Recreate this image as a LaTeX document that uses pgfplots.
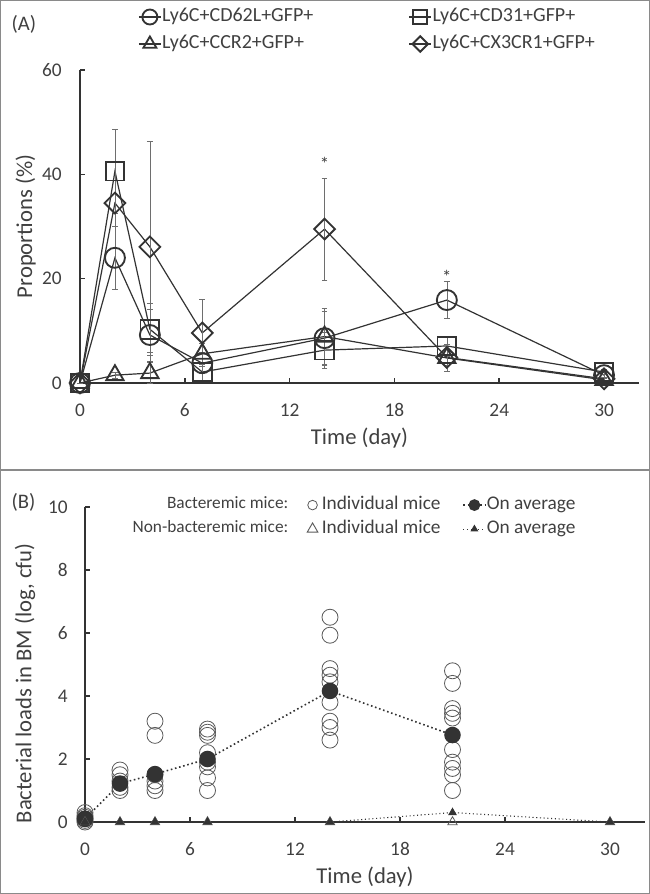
\documentclass[border=0pt]{standalone}
\usepackage{fontspec}
\setmainfont{Carlito}
\usepackage{pgfplots}
\usepackage{pgfplotstable}
\pgfplotsset{compat=1.18}
\definecolor{txt}{HTML}{404040}
\definecolor{axc}{HTML}{333333}
\definecolor{frm}{HTML}{8A8A8A}
\definecolor{errc}{HTML}{6E6E6E}
\definecolor{indc}{HTML}{5A5A5A}

% Panel A: x = day, y = mean proportion, e = error
\pgfplotstableread{
x y e
0 0 0
2 24.0 6.0
4 9.2 5.0
7 3.8 2.0
14 8.6 5.1
21 15.9 3.5
30 1.5 0.5
}\tcd
\pgfplotstableread{
x y e
0 0 0
2 40.6 8.1
4 10.3 5.0
7 2.1 1.5
14 6.3 3.4
21 7.1 1.9
30 2.1 0.5
}\tcdb
\pgfplotstableread{
x y e
0 0 0
2 1.5 0.6
4 1.9 2.0
7 5.6 2.0
14 8.9 5.5
21 4.8 2.6
30 0.6 0.3
}\tccr
\pgfplotstableread{
x y e
0 0 0
2 34.5 4.4
4 26.1 20.2
7 9.6 6.4
14 29.5 9.8
21 4.9 1.5
30 0.8 0.3
}\tcx

% Panel B
\pgfplotstableread{
x y
0 0.0
0 0.05
0 0.1
0 0.15
0 0.2
0 0.3
2 1.0
2 1.1
2 1.3
2 1.5
2 1.65
4 1.0
4 1.15
4 1.3
4 1.5
4 2.75
4 3.2
7 1.0
7 1.4
7 1.75
7 1.9
7 2.2
7 2.75
7 2.85
7 2.95
14 2.6
14 3.0
14 3.2
14 3.8
14 4.45
14 4.66
14 4.87
14 5.93
14 6.5
21 1.0
21 1.5
21 1.7
21 1.9
21 2.3
21 3.3
21 3.45
21 3.6
21 4.4
21 4.8
}\tbind
\pgfplotstableread{
x y
0 0.1
2 1.22
4 1.52
7 2.0
14 4.16
21 2.76
}\tbavg
\pgfplotstableread{
x y
0 0
2 0
4 0
7 0
14 0
21 0
30 0
}\tnind
\pgfplotstableread{
x y
0 0
2 0
4 0
7 0
14 0
21 0.3
30 0
}\tnavg

\pgfplotsset{
  common/.style={
    scale only axis,
    axis x line*=bottom, axis y line*=left,
    axis line style={axc, line width=1.5pt},
    tick style={axc, line width=1.2pt},
    major tick length=4pt,
    tick align=inside,
    /pgf/number format/assume math mode=true,
    xmin=0, xmax=32, xtick={0,6,...,30},
    ticklabel style={font=\fontsize{14.5}{17}\selectfont, text=txt},
    label style={font=\fontsize{17}{20}\selectfont, text=txt},
    clip=false,
    xticklabel style={anchor=center, yshift=-20.25pt, inner sep=0pt},
  },
  ser/.style={axc, line width=0.9pt, mark options={solid, line width=1.4pt},
    error bars/y dir=both, error bars/y explicit,
    error bars/error bar style={errc, line width=0.5pt},
    error bars/error mark options={errc, line width=0.5pt, mark size=2.2pt, rotate=90}},
}

\begin{document}
\begin{tikzpicture}
\begin{scope}[x=0.75pt,y=0.75pt]
\useasboundingbox (0,0) rectangle (650,894);
\draw[frm, line width=1.1pt] (0.75,0.75) rectangle (649.25,893.25);
\draw[frm, line width=1.1pt] (0,424) -- (650,424);
\end{scope}

% ---------------- Panel A ----------------
\begin{axis}[common,
  at={(60pt,383.25pt)}, anchor=south west,
  width=419.25pt, height=234.75pt,
  ymin=0, ymax=60, ytick={0,20,40,60},
  yticklabel style={anchor=east, xshift=-13.5pt, inner sep=0pt},
  xlabel={Time (day)}, ylabel={Proportions (\%)},
  xlabel style={at={(axis description cs:0.5,-0.176)}, anchor=center},
  ylabel style={at={(axis description cs:-0.097,0.5)}, anchor=center},
  legend columns=2,
  legend style={at={(axis description cs:0.1038,1.200)}, anchor=north west,
    draw=none, fill=none, inner sep=0pt,
    font=\fontsize{15}{18}\selectfont, text=txt,
    nodes={inner sep=0.5pt, text height=10pt, text depth=3pt},
    row sep=6.25pt,
    /tikz/column 2/.style={column sep=71pt}},
  legend cell align=left,
  legend image code/.code={\draw[mark repeat=2,mark phase=2,#1] plot coordinates {(0pt,0pt) (8.25pt,0pt) (16.5pt,0pt)};},
  legend image post style={every mark/.append style={scale=0.75}},
]
\addplot[ser, mark=o, mark size=7.5pt] table[x=x,y=y,y error=e]{\tcd};
\addlegendentry{Ly6C+CD62L+GFP+}
\addplot[ser, mark=square, mark size=7pt] table[x=x,y=y,y error=e]{\tcdb};
\addlegendentry{Ly6C+CD31+GFP+}
\addplot[ser, mark=triangle, mark size=7.5pt] table[x=x,y=y,y error=e]{\tccr};
\addlegendentry{Ly6C+CCR2+GFP+}
\addplot[ser, mark=square, mark size=5.5pt, mark options={solid, line width=1.4pt, rotate=45}] table[x=x,y=y,y error=e]{\tcx};
\addlegendentry{Ly6C+CX3CR1+GFP+}
\node[text=txt, font=\fontsize{14}{16}\selectfont] at (axis cs:14,42) {*};
\node[text=txt, font=\fontsize{14}{16}\selectfont] at (axis cs:21,20.3) {*};
\end{axis}

% ---------------- Panel B ----------------
\begin{axis}[common,
  at={(63.75pt,54pt)}, anchor=south west,
  width=420pt, height=236.25pt,
  ymin=0, ymax=10, ytick={0,2,...,10},
  yticklabel style={anchor=east, xshift=-12.75pt, inner sep=0pt},
  xlabel={Time (day)}, ylabel={Bacterial loads in BM (log, cfu)},
  xlabel style={at={(axis description cs:0.5,-0.175)}, anchor=center},
  ylabel style={at={(axis description cs:-0.107,0.44)}, anchor=center},
  legend columns=2,
  legend style={at={(axis description cs:0.3964,1.0355)}, anchor=north west,
    draw=none, fill=none, inner sep=0pt,
    font=\fontsize{14.5}{17}\selectfont, text=txt,
    nodes={inner sep=0.5pt, text height=9.5pt, text depth=3pt},
    row sep=4.5pt,
    /tikz/column 2/.style={column sep=16pt}},
  legend cell align=left,
  legend image code/.code={\draw[mark repeat=2,mark phase=2,#1] plot coordinates {(0pt,0pt) (8.25pt,0pt) (16.5pt,0pt)};},
]
\addlegendimage{only marks, mark=o, mark size=3.6pt, mark options={indc, line width=0.6pt}}
\addlegendentry{\,Individual mice}
\addlegendimage{axc, dotted, line width=1.2pt, mark=*, mark size=3.8pt, mark options={solid, fill=axc, draw=axc}}
\addlegendentry{On average}
\addlegendimage{only marks, mark=triangle, mark size=4.6pt, mark options={indc, line width=0.7pt}}
\addlegendentry{\,Individual mice}
\addlegendimage{axc, dotted, line width=0.8pt, mark=triangle*, mark size=2.6pt, mark options={solid, fill=axc, draw=axc}}
\addlegendentry{On average}
\addplot[forget plot, only marks, mark=o, mark size=6pt, mark options={indc, line width=0.6pt}] table[x=x,y=y]{\tbind};
\addplot[forget plot, axc, dotted, line width=1.2pt, mark=*, mark size=5.6pt, mark options={solid, fill=axc, draw=axc}] table[x=x,y=y]{\tbavg};
\addplot[forget plot, only marks, mark=triangle, mark size=4pt, mark options={indc, line width=0.6pt}] table[x=x,y=y]{\tnind};
\addplot[forget plot, axc, dotted, line width=0.8pt, mark=triangle*, mark size=3pt, mark options={solid, fill=axc, draw=axc}] table[x=x,y=y]{\tnavg};
\end{axis}

\begin{scope}[x=0.75pt,y=0.75pt]
\node[anchor=west, text=txt, font=\fontsize{15.5}{18}\selectfont] at (7,870) {(A)};
\node[anchor=west, text=txt, font=\fontsize{15.5}{18}\selectfont] at (7,392) {(B)};
\node[anchor=east, text=txt, font=\fontsize{13}{15}\selectfont] at (293,391) {Bacteremic mice:};
\node[anchor=east, text=txt, font=\fontsize{13}{15}\selectfont] at (293,367) {Non-bacteremic mice:};
\end{scope}
\end{tikzpicture}
\end{document}
